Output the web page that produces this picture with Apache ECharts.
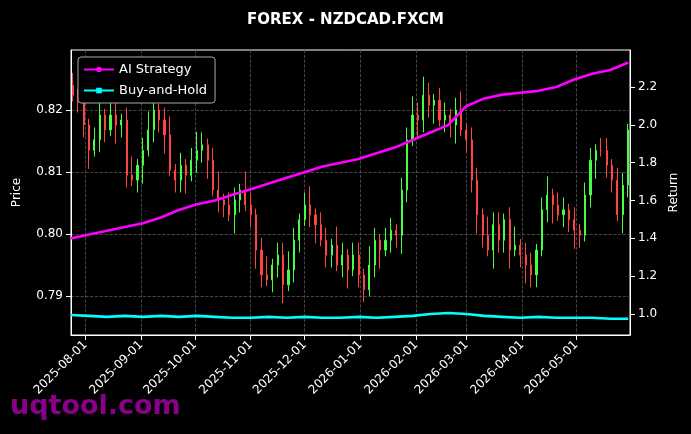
<!DOCTYPE html>
<html>
<head>
<meta charset="utf-8">
<script src="https://cdn.jsdelivr.net/npm/echarts@6/dist/echarts.min.js"></script>
<style>html,body{margin:0;background:#000}#chart{width:691px;height:434px}</style>
</head>
<body>
<div id="chart"></div>
<script>
// day 0 = 2025-07-24, one category per calendar day
const startDate = '2025-07-24';
const dayCount = 312;

// candles every 3 days
const candleDay = [];
for (let k = 0; k < 104; k++) candleDay.push(1 + 3 * k);
const candleClose = [
  0.8224, 0.8216, 0.8176, 0.8135, 0.8152, 0.8192, 0.8168, 0.8192, 0.8176, 0.8184,
  0.8095, 0.8087, 0.8111, 0.8135, 0.8168, 0.8200, 0.8184, 0.8160, 0.8103, 0.8087,
  0.8111, 0.8095, 0.8119, 0.8135, 0.8144, 0.8119, 0.8071, 0.8055, 0.8047, 0.8031,
  0.8055, 0.8071, 0.8047, 0.8031, 0.7974, 0.7934, 0.7926, 0.7950, 0.7966, 0.7918,
  0.7942, 0.7990, 0.8023, 0.8047, 0.8031, 0.8015, 0.7990, 0.7966, 0.7982, 0.7950,
  0.7966, 0.7942, 0.7966, 0.7934, 0.7910, 0.7950, 0.7990, 0.7974, 0.7990, 0.8006,
  0.7998, 0.8071, 0.8152, 0.8192, 0.8184, 0.8224, 0.8208, 0.8216, 0.8184, 0.8192,
  0.8176, 0.8200, 0.8168, 0.8152, 0.8087, 0.8031, 0.7998, 0.7974, 0.8015, 0.7990,
  0.8023, 0.7974, 0.7982, 0.7966, 0.7950, 0.7934, 0.7974, 0.8039, 0.8063, 0.8047,
  0.8031, 0.8039, 0.8023, 0.8006, 0.7998, 0.8063, 0.8119, 0.8135, 0.8135, 0.8111,
  0.8087, 0.8031, 0.8079, 0.8168
];
const firstOpen = 0.8240;
const wickUp = [
  0.002, 0.001, 0.003, 0.001, 0.002, 0.002, 0.001, 0.003, 0.002, 0.001,
  0.002, 0.003, 0.001, 0.002, 0.003, 0.002, 0.001, 0.002, 0.003, 0.001,
  0.002, 0.001, 0.002, 0.003, 0.002, 0.001, 0.002, 0.003, 0.001, 0.002,
  0.002, 0.001, 0.003, 0.002, 0.001, 0.002, 0.003, 0.001, 0.002, 0.002,
  0.003, 0.002, 0.001, 0.002, 0.003, 0.001, 0.002, 0.002, 0.001, 0.003,
  0.002, 0.001, 0.002, 0.002, 0.001, 0.003, 0.002, 0.001, 0.002, 0.002,
  0.001, 0.002, 0.002, 0.003, 0.002, 0.003, 0.002, 0.001, 0.002, 0.002,
  0.001, 0.002, 0.003, 0.001, 0.002, 0.002, 0.001, 0.003, 0.002, 0.002,
  0.001, 0.002, 0.003, 0.001, 0.002, 0.002, 0.001, 0.002, 0.003, 0.001,
  0.002, 0.002, 0.001, 0.002, 0.001, 0.002, 0.002, 0.001, 0.002, 0.002,
  0.001, 0.002, 0.002, 0.001
];
const wickDown = [
  0.001, 0.002, 0.002, 0.003, 0.001, 0.002, 0.002, 0.001, 0.003, 0.002,
  0.002, 0.001, 0.002, 0.003, 0.001, 0.002, 0.002, 0.003, 0.001, 0.002,
  0.002, 0.003, 0.001, 0.002, 0.002, 0.003, 0.001, 0.002, 0.002, 0.001,
  0.003, 0.002, 0.001, 0.002, 0.003, 0.002, 0.001, 0.002, 0.002, 0.003,
  0.001, 0.002, 0.002, 0.001, 0.002, 0.003, 0.001, 0.002, 0.002, 0.001,
  0.002, 0.003, 0.001, 0.002, 0.002, 0.001, 0.002, 0.003, 0.001, 0.002,
  0.002, 0.003, 0.002, 0.001, 0.003, 0.002, 0.002, 0.003, 0.001, 0.002,
  0.002, 0.003, 0.001, 0.002, 0.002, 0.003, 0.002, 0.001, 0.003, 0.002,
  0.002, 0.003, 0.001, 0.002, 0.003, 0.002, 0.002, 0.001, 0.002, 0.003,
  0.001, 0.002, 0.002, 0.003, 0.002, 0.001, 0.002, 0.003, 0.001, 0.002,
  0.002, 0.001, 0.003, 0.002
];

// strategy returns every 10 days
const lineDay = [0, 10, 20, 30, 40, 50, 60, 70, 80, 90, 100, 110, 120, 130, 140, 150,
  160, 170, 180, 190, 200, 210, 220, 230, 240, 250, 260, 270, 280, 290, 300, 310];
const aiStrategy = [1.40, 1.42, 1.44, 1.46, 1.48, 1.51, 1.55, 1.58, 1.60, 1.63, 1.66,
  1.69, 1.72, 1.75, 1.78, 1.80, 1.82, 1.85, 1.88, 1.92, 1.96, 2.00, 2.10, 2.14, 2.16,
  2.17, 2.18, 2.20, 2.24, 2.27, 2.29, 2.33];
const buyHold = [0.995, 0.99, 0.985, 0.99, 0.985, 0.99, 0.985, 0.99, 0.985, 0.98, 0.98,
  0.985, 0.98, 0.985, 0.98, 0.98, 0.985, 0.98, 0.985, 0.99, 1.0, 1.005, 1.0, 0.99,
  0.985, 0.98, 0.985, 0.98, 0.98, 0.98, 0.975, 0.975];

const priceTicks = [0.79, 0.80, 0.81, 0.82];
const returnTicks = [1.0, 1.2, 1.4, 1.6, 1.8, 2.0, 2.2];

const pad = n => String(n).padStart(2, '0');
const dates = [];
const t0 = new Date(startDate + 'T00:00:00Z');
for (let i = 0; i < dayCount; i++) {
  const d = new Date(t0.getTime() + i * 86400000);
  dates.push(d.getUTCFullYear() + '-' + pad(d.getUTCMonth() + 1) + '-' + pad(d.getUTCDate()));
}
const isMonthStart = (i) => dates[i].endsWith('-01');

const candleData = dates.map(() => '-');
let prev = firstOpen;
candleDay.forEach((d, k) => {
  const o = prev, c = candleClose[k];
  candleData[d] = [o, c, Math.min(o, c) - wickDown[k], Math.max(o, c) + wickUp[k]];
  prev = c;
});
const toLine = (vals) => {
  const arr = dates.map(() => null);
  lineDay.forEach((d, k) => { arr[d] = vals[k]; });
  return arr;
};

const myChart = echarts.init(document.getElementById('chart'));
const grayDash = { color: '#555', type: 'dashed', width: 0.8 };
const option = {
  backgroundColor: '#000',
  animation: false,
  textStyle: { fontFamily: 'DejaVu Sans' },
  title: {
    text: 'FOREX - NZDCAD.FXCM', left: 'center', top: 8,
    textStyle: { color: '#fff', fontSize: 15, fontWeight: 'bold', fontFamily: 'DejaVu Sans' }
  },
  graphic: [{
    type: 'text', left: 10, top: 393,
    style: { text: 'uqtool.com', fill: '#8a008a', font: 'bold 27px DejaVu Sans' }
  }],
  legend: {
    left: 78, top: 57, orient: 'vertical', itemGap: 8,
    backgroundColor: '#000', borderColor: '#aaa', borderWidth: 1, borderRadius: 3,
    padding: [6, 8, 6, 5], itemWidth: 30, itemHeight: 7,
    textStyle: { color: '#fff', fontSize: 13 },
    data: ['AI Strategy', 'Buy-and-Hold']
  },
  grid: { left: 71, right: 61, top: 50, bottom: 99, show: true, borderColor: '#fff', borderWidth: 1 },
  xAxis: {
    type: 'category', data: dates, boundaryGap: false,
    axisLine: { lineStyle: { color: '#fff' } },
    axisTick: { interval: isMonthStart, lineStyle: { color: '#fff' } },
    axisLabel: {
      interval: isMonthStart, rotate: 45, color: '#fff', fontSize: 12, margin: 8
    },
    splitLine: { show: true, interval: isMonthStart, lineStyle: grayDash }
  },
  yAxis: [{
    type: 'value', min: 0.7837, max: 0.8297, name: 'Price', nameLocation: 'middle', nameGap: 48,
    nameTextStyle: { color: '#fff', fontSize: 12 },
    axisLine: { show: true, lineStyle: { color: '#fff' } },
    axisTick: { show: true, customValues: priceTicks },
    axisLabel: { color: '#fff', fontSize: 12, customValues: priceTicks, formatter: v => v.toFixed(2) },
    splitLine: { show: true, lineStyle: grayDash }
  }, {
    type: 'value', min: 0.889, max: 2.396, name: 'Return', nameLocation: 'middle', nameGap: 38,
    nameTextStyle: { color: '#fff', fontSize: 12 },
    axisLine: { show: true, lineStyle: { color: '#fff' } },
    axisTick: { show: true, customValues: returnTicks },
    axisLabel: { color: '#fff', fontSize: 12, customValues: returnTicks, formatter: v => v.toFixed(1) },
    splitLine: { show: false }
  }],
  series: [{
    type: 'candlestick', name: 'Price', data: candleData, barWidth: 1.6,
    itemStyle: { color: '#44ff44', color0: '#ff4444', borderColor: '#44ff44', borderColor0: '#ff4444', borderWidth: 1 }
  }, {
    type: 'line', name: 'AI Strategy', yAxisIndex: 1, data: toLine(aiStrategy), connectNulls: true,
    symbol: 'circle', symbolSize: 5, showSymbol: false, color: '#ff00ff', lineStyle: { width: 2.6 }
  }, {
    type: 'line', name: 'Buy-and-Hold', yAxisIndex: 1, data: toLine(buyHold), connectNulls: true,
    symbol: 'rect', symbolSize: 5, showSymbol: false, color: '#00ffff', lineStyle: { width: 2.6 }
  }]
};
myChart.setOption(option, true);
</script>
</body>
</html>
